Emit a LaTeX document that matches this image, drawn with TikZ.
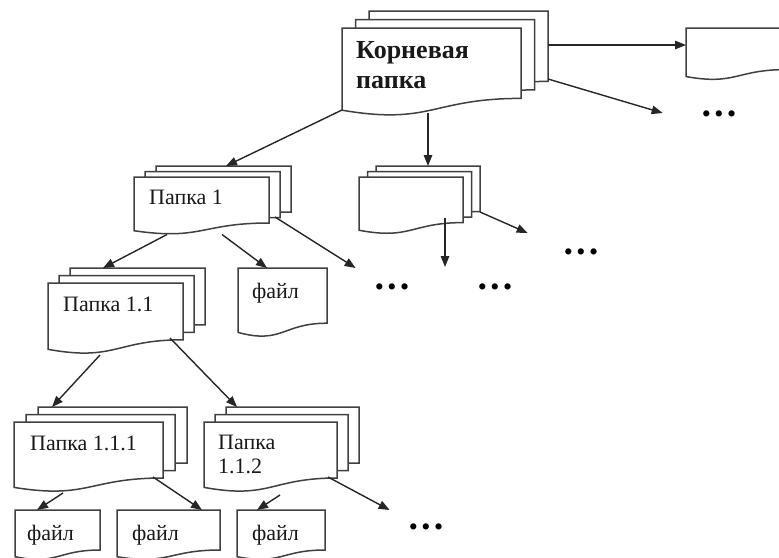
\documentclass[tikz,border=0pt]{standalone}
\usepackage{fontspec}
\setmainfont{Liberation Serif}
\usetikzlibrary{calc,arrows.meta}
\newcommand\docsheet[3]{%
 \filldraw[sheetline] ($(#1.north west)+(#2,#3)$) -- ($(#1.north east)+(#2,#3)$) -- ($(#1.north east)!0.8!(#1.south east)+(#2,#3)$) .. controls ($(#1.north)!0.8!(#1.south)+(#2,#3)$) and ($(#1.north)!1.107!(#1.south)+(#2,#3)$) .. ($(#1.north west)!0.934!(#1.south west)+(#2,#3)$) -- cycle;}
\newcommand\docstack[3]{\docsheet{#1}{{2*(#2)}}{{2*(#3)}}\docsheet{#1}{#2}{#3}\docsheet{#1}{0}{0}}
\newcommand\threedots{•\hspace{3.5pt}•\hspace{3.5pt}•}
\tikzset{
  sheetbox/.style={draw=none, inner sep=0pt, outer sep=0pt, anchor=north west},
  sheetline/.style={draw=black!75, line width=1.5pt, fill=white},
  arr/.style={-{Triangle[length=11pt,width=8.5pt]}, line width=1.4pt, draw=black!85},
  lbl/.style={inner sep=0pt, font=\fontsize{22}{24}\selectfont, anchor=base west, text=black!90},
  dotsn/.style={inner sep=0pt, font=\fontsize{26}{28}\selectfont}
}
\begin{document}
\begin{tikzpicture}[x=1pt,y=-1pt]
\useasboundingbox (0,0) rectangle (779,557);
\clip (0,0) rectangle (779,557);
\fill[white] (0,0) rectangle (779,557);
% sheet frames
\node[sheetbox, minimum width=179pt, minimum height=88pt] (root) at (342,28) {};
\node[sheetbox, minimum width=100pt, minimum height=52pt] (rfile) at (686,28) {};
\node[sheetbox, minimum width=135pt, minimum height=57.5pt] (p1) at (134,177) {};
\node[sheetbox, minimum width=104pt, minimum height=57pt] (s2) at (359,177) {};
\node[sheetbox, minimum width=89pt, minimum height=69pt] (f1) at (238,268) {};
\node[sheetbox, minimum width=135pt, minimum height=71pt] (p11) at (48,283) {};
\node[sheetbox, minimum width=149pt, minimum height=70pt] (p111) at (14,422) {};
\node[sheetbox, minimum width=133pt, minimum height=70pt] (p112) at (204,422) {};
\node[sheetbox, minimum width=85pt, minimum height=50pt] (f2) at (15,510) {};
\node[sheetbox, minimum width=103pt, minimum height=50pt] (f3) at (117,510) {};
\node[sheetbox, minimum width=88pt, minimum height=50pt] (f4) at (237,510) {};
% sheets
\docstack{root}{13.5}{-8.5}
\docsheet{rfile}{0}{0}
\docstack{p1}{11}{-5.5}
\docstack{s2}{8.5}{-5.5}
\docsheet{f1}{0}{0}
\docstack{p11}{11}{-7.5}
\docstack{p111}{12}{-7.5}
\docstack{p112}{11}{-7.5}
\docsheet{f2}{0}{0}
\docsheet{f3}{0}{0}
\docsheet{f4}{0}{0}
% texts
\node[lbl, anchor=north west, font=\bfseries\fontsize{26}{30}\selectfont, align=left] (roott) at (356,41) {Корневая\\папка};
\node[lbl] (p1t) at (149,204) {Папка 1};
\node[lbl] (p11t) at (63,311) {Папка 1.1};
\node[lbl] (p111t) at (30,450) {Папка 1.1.1};
\node[lbl, anchor=north west, align=left] (p112t) at (218,435) {Папка\\1.1.2};
\node[lbl] (f1t) at (252,298) {файл};
\node[lbl] (f2t) at (27,540) {файл};
\node[lbl] (f3t) at (132,540) {файл};
\node[lbl] (f4t) at (252,540) {файл};
% dots
\node[dotsn] (d1) at (719,117) {\threedots};
\node[dotsn] (d2) at (581,255) {\threedots};
\node[dotsn] (d3) at (392,290) {\threedots};
\node[dotsn] (d4) at (495,290) {\threedots};
\node[dotsn] (d5) at (426,530) {\threedots};
\coordinate (s2end) at ($(s2.south)+(34,33)$);
% connectors
\draw[arr] ($(root.north east)+(27,17)$) -- ($(rfile.north west)+(0,17)$);
\draw[arr] ($(root.north east)+(27,51)$) -- ($(d1.west)+(-39,-4)$);
\draw[arr] ($(root.south west)+(0,-6)$) -- ($(p1.north)+(24.5,-11)$);
\draw[arr] ($(root.south)+(-3.5,-3)$) -- ($(s2.north)+(17,-11)$);
\draw[arr] ($(s2.south)+(34,-16)$) -- (s2end);
\draw[arr] ($(s2.north east)+(17,35)$) -- ($(d2.west)+(-36,-22)$);
\draw[arr] ($(p1.south)+(-34.5,0)$) -- ($(p11.north)+(-12.5,-15)$);
\draw[arr] ($(p1.south)+(20.5,0)$) -- ($(f1.north)+(-15.5,0)$);
\draw[arr] ($(p1.north east)+(6,40)$) -- ($(d3.west)+(-19,-22)$);
\draw[arr] ($(p11.south)+(-15.5,1)$) -- ($(p111.north)+(-36.5,-15)$);
\draw[arr] ($(p11.north east)+(-13,55)$) -- ($(p112.north)+(-33.5,-15)$);
\draw[arr] ($(p111.south)+(-25.5,1)$) -- ($(f2.north)+(-20.5,0)$);
\draw[arr] ($(p111.north east)+(-10,55)$) -- ($(f3.north)+(33.5,0)$);
\draw[arr] ($(p112.south)+(9.5,3)$) -- ($(f4.north)+(-24,0)$);
\draw[arr] ($(p112.north east)+(-9,55)$) -- ($(d5.west)+(-19,-20)$);
\end{tikzpicture}
\end{document}
